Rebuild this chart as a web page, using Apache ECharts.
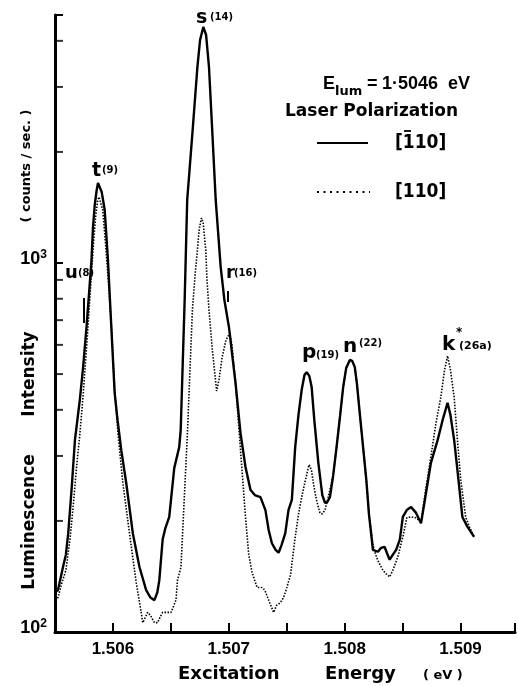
<!DOCTYPE html>
<html><head><meta charset="utf-8">
<script src="https://cdn.jsdelivr.net/npm/echarts@6/dist/echarts.min.js"></script>
<style>html,body{margin:0;padding:0;background:#fff}#c{width:518px;height:686px}</style>
</head><body><div id="c"></div>
<script>
// Excitation energy (eV) and luminescence intensity (counts/sec), laser polarization [-110] (solid)
const solidE = [1.505500,1.505526,1.505569,1.505594,1.505614,1.505643,1.505672,1.505714,1.505743,1.505772,
1.505794,1.505815,1.505828,1.505843,1.505860,1.505871,1.505886,1.505903,1.505929,1.505957,
1.505986,1.506015,1.506040,1.506072,1.506115,1.506172,1.506229,1.506286,1.506323,1.506358,
1.506383,1.506400,1.506429,1.506452,1.506486,1.506529,1.506572,1.506585,1.506598,1.506619,
1.506641,1.506686,1.506729,1.506752,1.506780,1.506804,1.506829,1.506858,1.506887,1.506930,
1.506962,1.507001,1.507058,1.507101,1.507144,1.507187,1.507224,1.507273,1.507316,1.507344,
1.507372,1.507404,1.507430,1.507455,1.507487,1.507515,1.507544,1.507573,1.507601,1.507629,
1.507653,1.507672,1.507695,1.507715,1.507738,1.507773,1.507807,1.507830,1.507850,1.507873,
1.507901,1.507930,1.507961,1.507987,1.508013,1.508045,1.508064,1.508087,1.508107,1.508130,
1.508159,1.508187,1.508210,1.508244,1.508287,1.508313,1.508345,1.508364,1.508388,1.508416,
1.508444,1.508476,1.508502,1.508536,1.508573,1.508613,1.508659,1.508699,1.508744,1.508802,
1.508845,1.508888,1.508913,1.508945,1.508973,1.509016,1.509059,1.509117];
const solidI = [128,130,150,162,185,243,331,425,523,671,
829,1019,1252,1436,1577,1648,1637,1557,1392,1019,
671,444,375,311,253,185,150,130,124,122,
128,138,178,191,205,278,317,353,482,794,
1482,2251,3397,4021,4361,4149,3397,2251,1482,975,
794,671,473,346,280,243,235,232,214,189,
174,167,164,172,185,214,228,317,387,453,
497,506,494,461,375,287,235,224,225,232,
266,317,387,461,519,546,543,523,467,392,
317,258,208,167,165,169,170,164,157,162,
167,178,205,214,218,211,197,235,287,331,
375,418,387,331,275,205,193,181];
// laser polarization [110] (dotted)
const dottedE = [1.505500,1.505526,1.505560,1.505594,1.505629,1.505654,1.505686,1.505714,1.505743,1.505777,
1.505800,1.505817,1.505834,1.505852,1.505869,1.505880,1.505894,1.505912,1.505937,1.505963,
1.505989,1.506015,1.506043,1.506086,1.506143,1.506201,1.506244,1.506257,1.506272,1.506300,
1.506323,1.506358,1.506386,1.506409,1.506429,1.506461,1.506501,1.506544,1.506557,1.506587,
1.506615,1.506643,1.506666,1.506686,1.506709,1.506729,1.506744,1.506763,1.506778,1.506801,
1.506812,1.506829,1.506858,1.506895,1.506915,1.506943,1.506975,1.507009,1.507027,1.507058,
1.507101,1.507144,1.507172,1.507201,1.507244,1.507286,1.507310,1.507344,1.507387,1.507412,
1.507444,1.507473,1.507501,1.507533,1.507573,1.507601,1.507629,1.507661,1.507693,1.507713,
1.507730,1.507756,1.507787,1.507807,1.507830,1.507858,1.507901,1.507930,1.507961,1.507987,
1.508013,1.508045,1.508064,1.508087,1.508107,1.508130,1.508159,1.508187,1.508210,1.508244,
1.508273,1.508296,1.508330,1.508356,1.508388,1.508416,1.508459,1.508502,1.508536,1.508573,
1.508613,1.508659,1.508699,1.508744,1.508785,1.508830,1.508862,1.508888,1.508913,1.508945,
1.508973,1.509002,1.509044,1.509076,1.509117];
const dottedI = [122,124,136,147,178,214,280,342,439,618,
794,957,1154,1349,1482,1510,1501,1392,1119,872,
658,453,346,253,185,136,113,106,106,113,
111,106,106,110,113,113,113,122,138,150,
228,346,523,746,928,1085,1229,1324,1291,1085,
899,746,581,450,482,556,618,646,600,473,
311,205,162,145,132,132,130,122,113,118,
120,124,132,143,181,208,232,258,284,275,
253,228,210,209,214,232,266,317,387,461,
519,546,543,523,467,392,317,258,208,172,
160,154,147,144,141,147,160,181,204,205,
204,199,243,298,364,433,513,560,513,433,
331,258,205,193,181];
const xTickLabels = ['1.506','1.507','1.508','1.509'];
const yMinorTicks = [200,300,400,500,600,700,800,900,2000,3000,4000];
const xRange = [1.5055, 1.50947];
const yRange = [100, 4700];
const peakNames = ['u','t','s','r','p','n','k'];
const peakIndices = ['(8)','(9)','(14)','(16)','(19)','(22)','(26a)'];
const legendTitle = 'Laser Polarization';
const legendItems = ['[110]','[110]'];

const chart = echarts.init(document.getElementById('c'), null, {renderer:'canvas'});
const DV = '"DejaVu Sans"';
const LB = '"Liberation Sans"';
function txt(x, y, text, size, opts) {
  opts = opts || {};
  return {type:'text', x:x, y:y, rotation: opts.rot || 0, silent:true, z:10,
    style:{text:text, fontSize:size, fontWeight: opts.weight || 'bold', fontFamily: opts.family || DV,
      fill:'#000', align: opts.align || 'left', verticalAlign:'middle'}};
}
function seg(x1,y1,x2,y2,w,dash){
  return {type:'line', silent:true, z:10, shape:{x1:x1,y1:y1,x2:x2,y2:y2},
    style:{stroke:'#000', lineWidth:w, lineDash: dash || null}};
}
const peakPos = [ // [letterX, letterY, letterSize, idxX, idxY, idxSize]
  [65,273,18,78,273,10],
  [92,171,19,102,170,10],
  [196,18,19,210,17,10],
  [226,273,18,234,273,10],
  [302,353,20,316,355,10],
  [343,347,20,359,343,10],
  [442,345,20,459,346,11]
];
const graphics = [];
peakNames.forEach((n,i)=>{
  const p = peakPos[i];
  graphics.push(txt(p[0],p[1],n,p[2]));
  graphics.push(txt(p[3],p[4],peakIndices[i],p[5]));
});
graphics.push(txt(456,333,'*',12));
graphics.push(seg(84,298,84,323,2));
graphics.push(seg(228,291,228,302,2));
// legend block
graphics.push(txt(323,84,'E',18,{family:LB}));
graphics.push(txt(335,92,'lum',13));
graphics.push(txt(367,84,'=',18,{family:LB}));
graphics.push(txt(382,84,'1\u00b75046',18,{family:LB}));
graphics.push(txt(448,84,'eV',18,{family:LB}));
graphics.push(txt(285,112,legendTitle,17));
graphics.push(seg(317,143,368,143,2.2));
graphics.push(txt(395,143,legendItems[0],19,{family:'"DejaVu Sans Condensed"'}));
graphics.push(seg(404,131,411,131,1.8));
graphics.push(seg(317,192,370,192,2,[2,4.5]));
graphics.push(txt(395,192,legendItems[1],19,{family:'"DejaVu Sans Condensed"'}));
// axis titles
graphics.push(txt(178,674,'Excitation',18));
graphics.push(txt(325,674,'Energy',18));
graphics.push(txt(423,676,'( eV )',13));
graphics.push(txt(30,522,'Luminescence',17,{align:'center',rot:Math.PI/2}));
graphics.push(txt(30,374,'Intensity',17,{align:'center',rot:Math.PI/2}));
graphics.push(txt(27,166,'( counts / sec. )',13,{align:'center',rot:Math.PI/2}));

const option = {
  animation:false,
  backgroundColor:'#fff',
  grid:{left:55, right:0, top:15, bottom:54},
  xAxis:{type:'value', min:xRange[0], max:xRange[1], interval:0.0005,
    axisLine:{lineStyle:{color:'#000', width:3}},
    axisTick:{inside:true, length:9, lineStyle:{color:'#000', width:2}},
    splitLine:{show:false},
    axisLabel:{margin:9, color:'#000', fontFamily:LB, fontWeight:'bold', fontSize:17,
      formatter:function(v){ const k=Math.round(v*2000); if(Math.abs(v*2000-k)>1e-3 || k%2!==0) return ''; const s=(k/2000).toFixed(3); return xTickLabels.indexOf(s)>=0 ? s : ''; }}
  },
  yAxis:{type:'log', logBase:10, min:yRange[0], max:yRange[1],
    axisLine:{show:true, lineStyle:{color:'#000', width:3}},
    axisTick:{show:true, inside:true, length:8, lineStyle:{color:'#000', width:2}},
    splitLine:{show:false},
    axisLabel:{margin:8, color:'#000', padding:[0,0,8,0],
      formatter:function(v){ const e=Math.log10(v); if(Math.abs(e-Math.round(e))>1e-6) return ''; return '{b|10}{s|'+Math.round(e)+'}'; },
      rich:{b:{fontFamily:LB, fontWeight:'bold', fontSize:18, lineHeight:20, color:'#000'},
            s:{fontFamily:LB, fontWeight:'bold', fontSize:12, lineHeight:12, verticalAlign:'top', color:'#000'}}}
  },
  series:[
    {type:'line', data:dottedE.map((e,i)=>[e,dottedI[i]]), showSymbol:false, silent:true, z:2,
      lineStyle:{color:'#000', width:1.6, type:[1.5,1.5]}},
    {type:'line', data:solidE.map((e,i)=>[e,solidI[i]]), showSymbol:false, silent:true, z:3,
      lineStyle:{color:'#000', width:2.4}},
    {type:'scatter', data:yMinorTicks.map(v=>[xRange[0],v]).concat([[xRange[0],yRange[1]]]), symbol:'rect', symbolSize:[8,2],
      symbolOffset:[4,0], itemStyle:{color:'#000'}, silent:true, clip:false, z:4}
  ],
  graphic:graphics
};
chart.setOption(option);
</script></body></html>
